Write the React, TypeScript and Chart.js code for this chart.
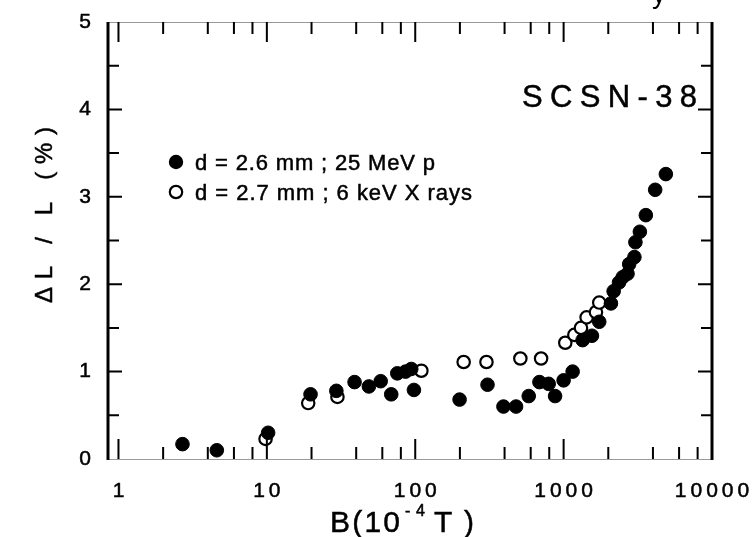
import React, { useEffect, useRef } from "react";
import { Chart, registerables } from "chart.js";

Chart.register(...registerables);

// ---- data ----
const protonB = [2.7, 4.6, 10.2, 19.7, 29.4, 39, 48.7, 58.5, 68.9, 75.7, 86, 94, 98, 199, 307, 393, 478, 582, 687, 793, 876, 1000, 1150, 1343, 1552, 1738, 2084, 2173, 2363, 2501, 2696, 2766, 3000, 3047, 3265, 3582, 4140, 4887];
const protonDL = [0.17, 0.1, 0.3, 0.74, 0.78, 0.88, 0.83, 0.89, 0.74, 0.98, 1.0, 1.03, 0.79, 0.68, 0.85, 0.6, 0.6, 0.72, 0.88, 0.86, 0.72, 0.9, 1.0, 1.36, 1.41, 1.57, 1.78, 1.92, 2.02, 2.08, 2.12, 2.23, 2.31, 2.48, 2.6, 2.79, 3.08, 3.26];
const xrayB = [9.8, 19, 29.9, 110, 212, 302, 511, 705, 1026, 1181, 1309, 1429, 1652, 1738];
const xrayDL = [0.23, 0.64, 0.71, 1.01, 1.11, 1.11, 1.15, 1.15, 1.33, 1.42, 1.5, 1.62, 1.68, 1.79];

const xTickValues = [1, 10, 100, 1000, 10000];
const xMinorMultipliers = [2, 4, 6, 8];
const yTickValues = [0, 1, 2, 3, 4, 5];
const yMinorValues = [0.5, 1.5, 2.5, 3.5, 4.5];
const legendLabels = ["d = 2.6 mm ; 25 MeV p", "d = 2.7 mm ; 6 keV X rays"];
const materialLabel = "SCSN-38";
const yTitle = "ΔL / L (%)";
const xTitleParts = ["B(10", "-4", "T)"];

const FONT = "'Liberation Sans', Arial, sans-serif";

// draw text with a given letter spacing (spacing set after the font)
function spacedText(ctx: CanvasRenderingContext2D, text: string, x: number, y: number, spacing: number, align: "left" | "center" | "right") {
  ctx.save();
  (ctx as any).letterSpacing = "0px";
  const n = Array.from(text).length;
  const w = ctx.measureText(text).width + spacing * (n - 1);
  (ctx as any).letterSpacing = spacing + "px";
  ctx.textAlign = "left";
  const sx = align === "left" ? x : align === "center" ? x - w / 2 : x - w;
  ctx.lineWidth = 0.5;
  ctx.strokeStyle = ctx.fillStyle as string;
  ctx.fillText(text, sx, y);
  ctx.strokeText(text, sx, y);
  ctx.restore();
}

function fitText(ctx: CanvasRenderingContext2D, text: string, x: number, y: number, width: number, center = false) {
  ctx.save();
  (ctx as any).letterSpacing = "0px";
  const n = Array.from(text).length;
  const w = ctx.measureText(text).width;
  const sp = n > 1 ? (width - w) / (n - 1) : 0;
  ctx.restore();
  spacedText(ctx, text, center ? x - width / 2 : x, y, sp, "left");
}

const decorPlugin = {
  id: "decor",
  afterDraw(chart: any) {
    const ctx: CanvasRenderingContext2D = chart.ctx;
    const { left, right, top, bottom } = chart.chartArea;
    const xs = chart.scales.x;
    const ys = chart.scales.y;
    ctx.save();

    // frame
    ctx.strokeStyle = "#9a9a9a";
    ctx.lineWidth = 1;
    ctx.beginPath();
    ctx.moveTo(left, top + 0.5);
    ctx.lineTo(right, top + 0.5);
    ctx.moveTo(left, bottom + 0.5);
    ctx.lineTo(right, bottom + 0.5);
    ctx.stroke();
    ctx.strokeStyle = "#000";
    ctx.lineWidth = 3;
    ctx.beginPath();
    ctx.moveTo(left, top);
    ctx.lineTo(left, bottom + 1);
    ctx.moveTo(right, top);
    ctx.lineTo(right, bottom + 1);
    ctx.stroke();

    // inner ticks
    ctx.lineWidth = 2;
    ctx.beginPath();
    const decades = [1, 10, 100, 1000];
    decades.forEach((d) => {
      xMinorMultipliers.forEach((m) => {
        const px = xs.getPixelForValue(d * m);
        ctx.moveTo(px, top);
        ctx.lineTo(px, top + 12);
        ctx.moveTo(px, bottom);
        ctx.lineTo(px, bottom - 12);
      });
    });
    xTickValues.forEach((v) => {
      const px = xs.getPixelForValue(v);
      if (px <= left + 2 || px >= right - 2) return;
      ctx.moveTo(px, top);
      ctx.lineTo(px, top + 20);
      ctx.moveTo(px, bottom);
      ctx.lineTo(px, bottom - 20);
    });
    yTickValues.forEach((v) => {
      if (v === 0 || v === 5) return;
      const py = ys.getPixelForValue(v);
      ctx.moveTo(left, py);
      ctx.lineTo(left + 14, py);
      ctx.moveTo(right, py);
      ctx.lineTo(right - 14, py);
    });
    yMinorValues.forEach((v) => {
      const py = ys.getPixelForValue(v);
      ctx.moveTo(left, py);
      ctx.lineTo(left + 11, py);
      ctx.moveTo(right, py);
      ctx.lineTo(right - 11, py);
    });
    ctx.stroke();

    ctx.fillStyle = "#000";
    ctx.textBaseline = "alphabetic";

    // tick labels from the scales' own ticks
    ctx.font = `21px ${FONT}`;
    xs.ticks.forEach((t: any) => {
      const px = xs.getPixelForValue(t.value);
      spacedText(ctx, String(t.label ?? t.value), px, 497, 4, "center");
    });
    ys.ticks.forEach((t: any) => {
      const py = ys.getPixelForValue(t.value);
      ctx.textBaseline = "middle";
      spacedText(ctx, String(t.label ?? t.value), 91, py, 0, "right");
    });
    ctx.textBaseline = "alphabetic";

    // material label
    ctx.font = `31px ${FONT}`;
    fitText(ctx, materialLabel, 522, 107, 175);

    // legend
    ctx.beginPath();
    ctx.arc(176, 162, 7.2, 0, Math.PI * 2);
    ctx.fill();
    ctx.beginPath();
    ctx.arc(176, 192, 6.2, 0, Math.PI * 2);
    ctx.lineWidth = 2.2;
    ctx.stroke();
    ctx.font = `22px ${FONT}`;
    fitText(ctx, legendLabels[0], 195, 170, 240);
    fitText(ctx, legendLabels[1], 195, 200, 277);

    // y title
    ctx.save();
    ctx.translate(52, 215);
    ctx.rotate(-Math.PI / 2);
    ctx.font = `24px ${FONT}`;
    fitText(ctx, yTitle, 0, 0, 176, true);
    ctx.restore();

    // x title
    ctx.font = `30px ${FONT}`;
    fitText(ctx, xTitleParts[0], 330, 532, 70);
    ctx.font = `16px ${FONT}`;
    fitText(ctx, xTitleParts[1], 405, 516, 20);
    ctx.font = `30px ${FONT}`;
    fitText(ctx, xTitleParts[2], 434, 532, 40);

    // cut-off letter from the text above the figure
    ctx.font = `28px ${FONT}`;
    ctx.fillText("y", 652, 3);

    ctx.restore();
  },
};

export default function App() {
  const ref = useRef<HTMLCanvasElement>(null);
  useEffect(() => {
    const chart = new Chart(ref.current as HTMLCanvasElement, {
      type: "scatter",
      data: {
        datasets: [
          {
            label: legendLabels[0],
            data: protonB.map((b, i) => ({ x: b, y: protonDL[i] })),
            pointRadius: 6.8,
            pointBorderWidth: 1,
            backgroundColor: "#000",
            borderColor: "#000",
          },
          {
            label: legendLabels[1],
            data: xrayB.map((b, i) => ({ x: b, y: xrayDL[i] })),
            pointRadius: 6.2,
            pointBorderWidth: 2.2,
            backgroundColor: "#fff",
            borderColor: "#000",
          },
        ],
      },
      options: {
        animation: false,
        responsive: true,
        maintainAspectRatio: false,
        devicePixelRatio: 1,
        layout: { padding: { left: 0, top: 22, right: 43, bottom: 0 } },
        plugins: { legend: { display: false }, tooltip: { enabled: false } },
        scales: {
          x: {
            type: "logarithmic",
            min: 0.85,
            max: 10000,
            grid: { display: false, drawTicks: false },
            border: { display: false },
            afterBuildTicks: (scale: any) => {
              scale.ticks = xTickValues.map((v) => ({ value: v }));
            },
            afterFit: (scale: any) => {
              scale.height = 78;
            },
            ticks: {
              display: false,
              callback: (v: any) => String(v),
              autoSkip: false,
            },
          },
          y: {
            type: "linear",
            min: 0,
            max: 5,
            grid: { display: false, drawTicks: false },
            border: { display: false },
            afterBuildTicks: (scale: any) => {
              scale.ticks = yTickValues.map((v) => ({ value: v }));
            },
            afterFit: (scale: any) => {
              scale.width = 108;
            },
            ticks: {
              display: false,
              callback: (v: any) => String(v),
            },
          },
        },
      },
      plugins: [decorPlugin],
    } as any);
    return () => chart.destroy();
  }, []);
  return (
    <div style={{ position: "absolute", left: 0, top: 0, width: 755, height: 537, background: "#fff" }}>
      <canvas ref={ref} />
    </div>
  );
}
